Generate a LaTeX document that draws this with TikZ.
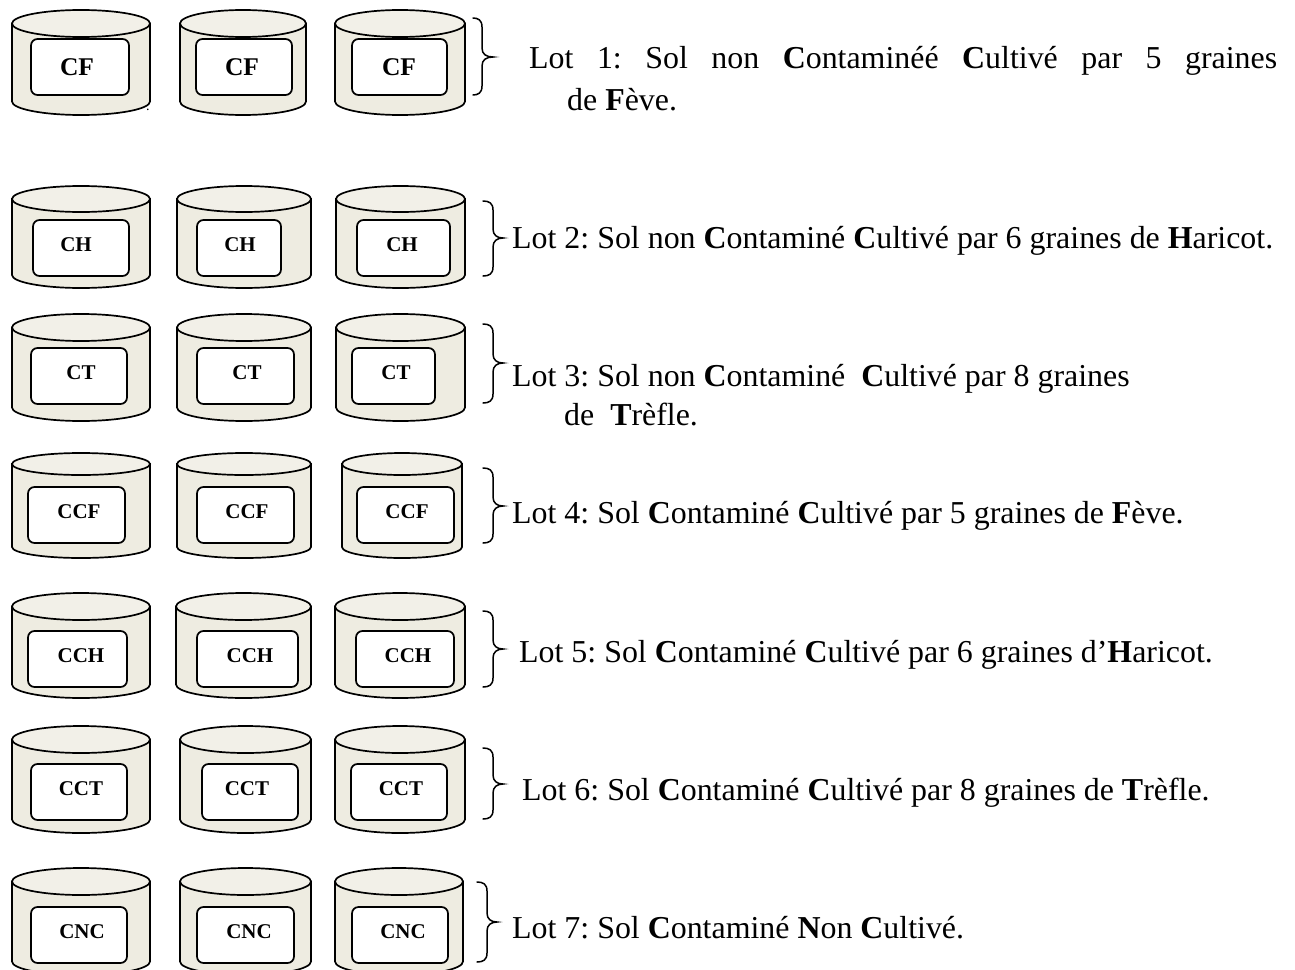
\documentclass[tikz,border=0pt]{standalone}
\usepackage{fontspec}
\setmainfont{Liberation Serif}
\frenchspacing
\newcommand{\B}[1]{\textbf{#1}}
\newcommand{\bigtag}{\fontsize{25.5}{25.5}\selectfont}
\definecolor{lidcol}{HTML}{F2F0E8}
\definecolor{bodycol}{HTML}{EEECE1}
\tikzset{
  lid/.style={draw=black,line width=1.7pt,fill=lidcol},
  body/.style={draw=black,line width=1.7pt,fill=bodycol},
  inbox/.style={draw=black,line width=1.7pt,fill=white,rounded corners=6.5pt},
  tag/.style={font=\fontsize{21}{21}\selectfont\bfseries,inner sep=0pt,anchor=center},
  lot/.style={font=\fontsize{31.9}{31.9}\selectfont,inner sep=0pt,anchor=base west},
  curly/.style={draw=black,line width=1.5pt,line cap=round}
}
\begin{document}
\begin{tikzpicture}[x=1pt,y=-1pt]
\clip (0,0) rectangle (1295,969);
% l/r/top/lidbottom/bottom/inL/inR/inT/inB/labelx/labely/text/name
\foreach \l/\r/\t/\e/\b/\il/\ir/\it/\ib/\lx/\ly/\s/\n in {
 12/150/10/37/115/31/129/39/95/77/67/\bigtag CF/a1,
 180/306/10/37/115/196/292/39/95/242/67/\bigtag CF/a2,
 335/465/10/37/115/352/447/39/95/399/67/\bigtag CF/a3,
 12/150/186/212/288/33/129/220/276/76/245/CH/b1,
 177/311/186/212/288/197/281/220/276/240/245/CH/b2,
 336/465/186/212/288/357/450/220/276/402/245/CH/b3,
 12/150/314/341/421/31/127/348/404/81/373/CT/c1,
 177/311/314/341/421/197/294/348/404/247/373/CT/c2,
 336/465/314/341/421/352/435/348/404/396/373/CT/c3,
 12/150/453/475/558/28/125/487/543/79/512/CCF/d1,
 177/311/453/475/558/197/294/487/543/247/512/CCF/d2,
 342/462/453/475/558/357/454/487/543/407/512/CCF/d3,
 12/150/593/620/698/28/127/631/687/81/656/CCH/e1,
 176/311/593/620/698/197/298/631/687/250/656/CCH/e2,
 335/465/593/620/698/356/454/631/687/408/656/CCH/e3,
 12/150/726/753/833/31/127/764/820/81/789/CCT/f1,
 180/311/726/753/833/202/298/764/820/247/789/CCT/f2,
 335/465/726/753/833/351/447/764/820/401/789/CCT/f3,
 12/150/868/895/975/31/127/907/963/82/932/CNC/g1,
 180/311/868/895/975/197/294/907/963/249/932/CNC/g2,
 335/463/868/895/975/352/448/907/963/403/932/CNC/g3}{
  \pgfmathsetmacro{\cx}{(\l+\r)/2}
  \pgfmathsetmacro{\rx}{(\r-\l)/2}
  \pgfmathsetmacro{\ry}{(\e-\t)/2}
  \pgfmathsetmacro{\cy}{(\e+\t)/2}
  \pgfmathsetmacro{\sy}{\b-\ry}
  \pgfmathsetmacro{\bw}{\ir-\il}
  \pgfmathsetmacro{\bh}{\ib-\it}
  \pgfmathsetmacro{\bx}{(\il+\ir)/2}
  \pgfmathsetmacro{\by}{(\it+\ib)/2}
  \path[body] (\l,\cy) -- (\l,\sy) arc[start angle=180,end angle=360,x radius=\rx,y radius=-\ry] -- (\r,\cy) -- cycle;
  \path[lid] (\cx,\cy) ellipse[x radius=\rx,y radius=\ry];
  \node[inbox,minimum width=\bw pt,minimum height=\bh pt,inner sep=0pt] (box\n) at (\bx,\by) {};
  \node[tag] (tag\n) at (\lx,\ly) {\s};
}
\foreach \x/\m/\tp/\yo/\ym/\yy/\n in {
 473/482/493/18/57/95/A,
 483/493/503/201/238/276/B,
 483/493/503/324/363/403/C,
 483/493/503/468/506/543/D,
 483/493/503/611/649/687/E,
 483/493/503/748/784/819/F,
 477/487/497/882/922/962/G}{
  \draw[curly] (\x,\yo) .. controls (\m-4,\yo) and (\m,\yo+2) .. (\m,\yo+9)
    -- (\m,\ym-9) .. controls (\m,\ym-3) and (\m+4,\ym) .. (\tp,\ym)
    .. controls (\m+4,\ym) and (\m,\ym+3) .. (\m,\ym+9)
    -- (\m,\yy-9) .. controls (\m,\yy-2) and (\m-4,\yy) .. (\x,\yy);
}
\node[lot] (dot) at (146,110) {\fontsize{14}{14}\selectfont .};
\node[lot] (l1a) at (529,68) {\makebox[748pt][s]{Lot 1: Sol non \B{C}ontaminéé \B{C}ultivé par 5 graines}};
\node[lot] (l1b) at (567,110) {de \B{F}ève.};
\node[lot] (l2) at (512,248) {Lot 2: Sol non \B{C}ontaminé \B{C}ultivé par 6 graines de \B{H}aricot.};
\node[lot] (l3a) at (512,386) {Lot 3: Sol non \B{C}ontaminé\ \ \B{C}ultivé par 8 graines};
\node[lot] (l3b) at (564,425) {de\ \ \B{T}rèfle.};
\node[lot] (l4) at (512,523) {Lot 4: Sol \B{C}ontaminé \B{C}ultivé par 5 graines de \B{F}ève.};
\node[lot] (l5) at (519,662) {Lot 5: Sol \B{C}ontaminé \B{C}ultivé par 6 graines d’\B{H}aricot.};
\node[lot] (l6) at (522,800) {Lot 6: Sol \B{C}ontaminé \B{C}ultivé par 8 graines de \B{T}rèfle.};
\node[lot] (l7) at (512,938) {Lot 7: Sol \B{C}ontaminé \B{N}on \B{C}ultivé.};
\end{tikzpicture}
\end{document}
